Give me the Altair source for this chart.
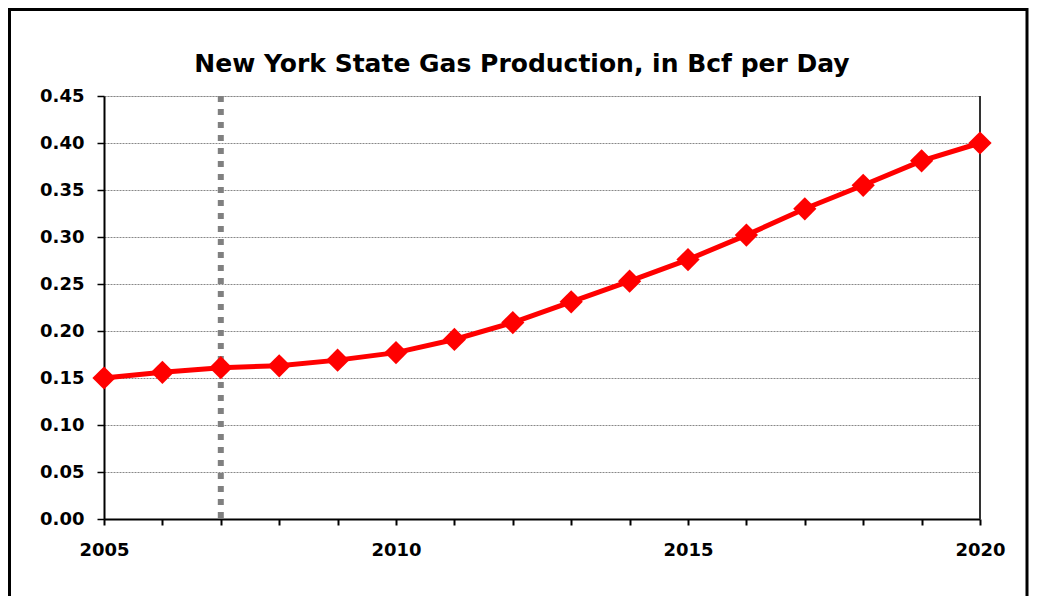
import altair as alt
import pandas as pd

years = list(range(2005, 2021))
production = [0.150, 0.156, 0.161, 0.163, 0.169, 0.177, 0.191, 0.209,
              0.231, 0.253, 0.276, 0.302, 0.330, 0.355, 0.381, 0.400]
marker_year = [2007]
title_text = "New York State Gas Production, in Bcf per Day"

FONT = "DejaVu Sans"
W, H = 876, 423

df = pd.DataFrame({"year": years, "bcf": production})
vdf = pd.DataFrame({"year": marker_year})
one = pd.DataFrame({"k": [0]})

xscale = alt.Scale(domain=[2005, 2020], nice=False, zero=False)
yscale = alt.Scale(domain=[0, 0.45], nice=False)

xaxis = alt.Axis(
    values=years, format="d", title=None,
    labelExpr="datum.value % 5 == 0 ? datum.label : ''",
    tickSize=6, tickWidth=2, tickColor="black",
    domainColor="black", domainWidth=2,
    labelFont=FONT, labelFontSize=18, labelFontWeight="bold", labelColor="black",
    labelPadding=16, grid=False, labelFlush=False,
)
yaxis = alt.Axis(
    values=[i * 0.05 for i in range(10)], format=".2f", title=None,
    tickSize=7, tickWidth=1.5, tickColor="black",
    domainColor="black", domainWidth=2,
    labelFont=FONT, labelFontSize=18, labelFontWeight="bold", labelColor="black",
    labelPadding=13, grid=True, gridColor="#888888", gridDash=[2, 1], gridWidth=1,
    labelFlush=False,
)

base = alt.Chart(df)

grid_layer = base.mark_line(opacity=0).encode(
    x=alt.X("year:Q", scale=xscale, axis=xaxis),
    y=alt.Y("bcf:Q", scale=yscale, axis=yaxis),
)

vline = alt.Chart(vdf).mark_rule(color="#808080", strokeWidth=6, strokeDash=[6, 7]).encode(
    x=alt.X("year:Q", scale=xscale),
    y=alt.value(0), y2=alt.value(H),
)

right_border = alt.Chart(one).mark_rule(color="#333333", strokeWidth=2).encode(
    x=alt.value(W), y=alt.value(0), y2=alt.value(H),
)

line = base.mark_line(color="#FF0000", strokeWidth=5).encode(
    x=alt.X("year:Q", scale=xscale),
    y=alt.Y("bcf:Q", scale=yscale),
)
points = base.mark_point(shape="diamond", filled=True, color="#FF0000", size=540, opacity=1).encode(
    x=alt.X("year:Q", scale=xscale),
    y=alt.Y("bcf:Q", scale=yscale),
)

frame = alt.Chart(one).mark_rect(fill=None, stroke="black", strokeWidth=3).encode(
    x=alt.value(-94.5), x2=alt.value(923), y=alt.value(-86.5), y2=alt.value(700),
)

chart = alt.layer(grid_layer, right_border, vline, line, points, frame).properties(
    width=W, height=H,
    title=alt.TitleParams(
        text=title_text, font=FONT, fontSize=25, fontWeight="bold", color="black",
        anchor="middle", frame="group", baseline="alphabetic", offset=-89, dx=-20,
    ),
    padding={"left": 96, "top": 88, "right": 49, "bottom": 77},
    autosize=alt.AutoSizeParams(type="none"),
).configure_view(stroke=None).configure(background="white")

chart.save("out.html", embed_options={"renderer": "svg", "actions": False})
